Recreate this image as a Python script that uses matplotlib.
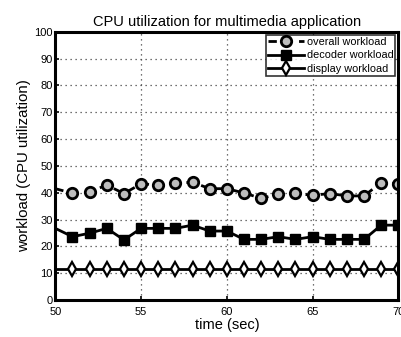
import numpy as np
import matplotlib
matplotlib.use('Agg')
from matplotlib import pyplot as plt

# time axis (sec) and measured workloads
t = list(range(50, 71))
overall = [41.5, 39.8, 40.4, 42.8, 39.7, 43.3, 42.9, 43.5, 43.9, 41.5, 41.5,
           39.9, 37.9, 39.4, 39.8, 39.0, 39.7, 38.8, 38.8, 43.8, 43.3]
decoder = [26.7, 23.6, 24.9, 26.7, 22.4, 26.7, 26.7, 26.7, 27.9, 25.7, 25.7,
           22.6, 22.6, 23.6, 22.6, 23.6, 22.6, 22.6, 22.6, 27.9, 27.9]
display = [11.6] * 21

xticks = [50, 55, 60, 65, 70]
yticks = list(range(0, 101, 10))

plt.rcParams['font.family'] = 'Liberation Sans'
fig = plt.figure(figsize=(4.01, 3.37), dpi=100)
ax = fig.add_axes([0.138, 0.1098, 0.8555, 0.796])

marks = list(range(1, len(t)))
ax.plot(t, overall, '--', color='black', lw=2, marker='o', markersize=7.5,
        markerfacecolor='#bdbdbd', markeredgecolor='black', markeredgewidth=2,
        markevery=marks, label='overall workload', dashes=(3, 2.5))
ax.plot(t, decoder, '-', color='black', lw=2, marker='s', markersize=6.5,
        markerfacecolor='black', markeredgecolor='black', markevery=marks,
        label='decoder workload')
ax.plot(t, display, '-', color='black', lw=2, marker='d', markersize=7,
        markerfacecolor='white', markeredgecolor='black', markeredgewidth=1.6,
        markevery=marks, label='display workload')

ax.set_xlim(50, 70)
ax.set_ylim(0, 100)
ax.set_xticks(xticks)
ax.set_yticks(yticks)
ax.tick_params(direction='in', labelsize=8, length=3, width=1.2)
ax.tick_params(axis='x', pad=5)
ax.tick_params(axis='y', pad=2)
ax.grid(True, linestyle=(0, (1, 3)), color='#444444', linewidth=0.9)
for s in ax.spines.values():
    s.set_linewidth(2.2)

ax.set_title('CPU utilization for multimedia application', fontsize=10.5, pad=4)
ax.set_xlabel('time (sec)', fontsize=10.5, labelpad=1)
ax.set_ylabel('workload (CPU utilization)', fontsize=10.8, labelpad=2)

leg = ax.legend(loc='upper right', fontsize=7.8, frameon=True, fancybox=False,
                borderaxespad=0.3, handlelength=3.3, borderpad=0.15,
                labelspacing=0.35, handletextpad=0.3)
leg.get_frame().set_edgecolor('black')
leg.get_frame().set_linewidth(1.2)

fig.savefig('out.png', dpi=100)
